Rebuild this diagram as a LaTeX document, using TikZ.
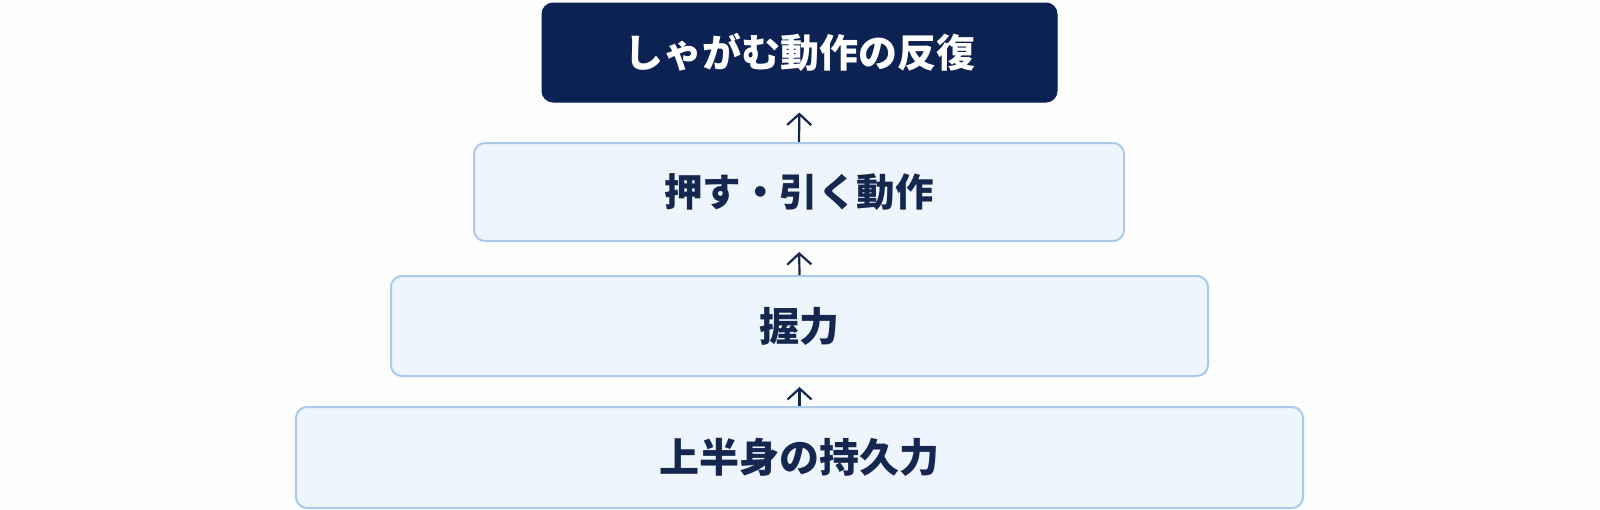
\documentclass[tikz,border=0pt]{standalone}
\usepackage{fontspec}
\newfontfamily\jp{Noto Sans CJK JP}
\usetikzlibrary{arrows.meta}
\definecolor{navy}{HTML}{0C2253}
\definecolor{textnavy}{HTML}{15264F}
\definecolor{lightfill}{HTML}{EEF5FD}
\definecolor{lightborder}{HTML}{A9C9EE}
\definecolor{bg}{HTML}{FDFDFE}
\begin{document}
\begin{tikzpicture}[x=1pt,y=-1pt,
  darkbox/.style={rectangle, rounded corners=11pt, fill=navy, draw=navy, line width=1pt,
    inner sep=0pt, text=white, font=\jp\bfseries\fontsize{39pt}{44pt}\selectfont},
  lightbox/.style={rectangle, rounded corners=11pt, fill=lightfill, draw=lightborder, line width=2pt,
    inner sep=0pt, text=textnavy, font=\jp\bfseries\fontsize{40pt}{45pt}\selectfont},
  uparrow/.style={draw=textnavy, line width=2.2pt, -{Straight Barb[length=11pt,width=24pt,line width=2.2pt]}, shorten >=10pt}
]
\fill[bg] (0,0) rectangle (1600,509);
\useasboundingbox (0,0) rectangle (1600,509);

\node[darkbox, minimum width=515pt, minimum height=99pt] (top) at (799.5,52.5) {しゃがむ動作の反復};
\node[lightbox, minimum width=650pt, minimum height=98pt, font=\jp\bfseries\fontsize{38.5pt}{44pt}\selectfont] (push) at (799,192) {押す・引く動作};
\node[lightbox, minimum width=817pt, minimum height=100pt] (grip) at (799.5,326) {握力};
\node[lightbox, minimum width=1007pt, minimum height=101pt] (endur) at (799.5,457.5) {上半身の持久力};

\draw[uparrow] (push.north) -- (top.south);
\draw[uparrow] (grip.north) -- (push.south);
\draw[uparrow] (endur.north) -- (grip.south);
\end{tikzpicture}
\end{document}
